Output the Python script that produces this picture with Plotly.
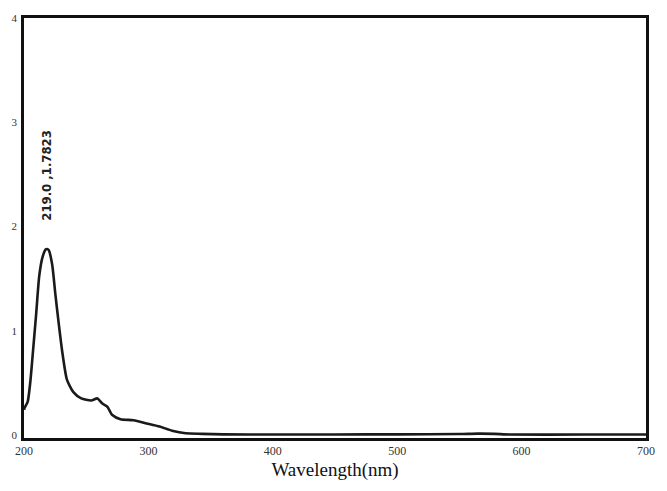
import plotly.graph_objects as go

wavelength = [200, 200.5, 203, 205, 207, 209.7, 212.3, 215, 217.5, 219, 220, 222.7, 225.3, 228, 230.6,
              234.5, 239.7, 246, 254, 259, 263, 267, 271, 277.6, 288, 298.6, 309, 319, 330, 343,
              360, 400, 450, 500, 550, 565, 578, 590, 650, 700]
absorbance = [0.24, 0.26, 0.32, 0.5, 0.77, 1.15, 1.53, 1.71, 1.78, 1.7823, 1.77, 1.63, 1.34, 1.06, 0.81,
              0.53, 0.41, 0.35, 0.33, 0.35, 0.30, 0.27, 0.19, 0.15, 0.14, 0.11, 0.08, 0.04, 0.015, 0.01,
              0.005, 0.004, 0.004, 0.005, 0.008, 0.012, 0.01, 0.004, 0.003, 0.003]
x_ticks = [200, 300, 400, 500, 600, 700]
y_ticks = [0, 1, 2, 3, 4]
peak_label = "219.0 ,1.7823"

fig = go.Figure()
fig.add_trace(go.Scatter(x=wavelength, y=absorbance, mode="lines",
                         line=dict(color="#1a1a1a", width=2.6, shape="spline", smoothing=0.6),
                         showlegend=False, hoverinfo="skip"))

fig.add_annotation(x=218, y=2.49, text="<b>" + peak_label + "</b>", textangle=-90, showarrow=False,
                   xref="x", yref="y",
                   font=dict(family="Liberation Sans Narrow, DejaVu Sans Condensed, Arial Narrow", size=13, color="#222"))

fig.update_layout(
    width=667, height=491,
    margin=dict(l=19, r=13, t=15, b=53),
    paper_bgcolor="white", plot_bgcolor="white",
    font=dict(family="Liberation Serif, Times New Roman, serif", color="#222"),
    xaxis=dict(range=[200, 700], tickvals=x_ticks, ticktext=[str(v) for v in x_ticks],
               showgrid=False, zeroline=False, showline=True, linecolor="#111", linewidth=2.5,
               mirror=True, ticks="", tickfont=dict(size=12, color="#333"),
               title=dict(text="Wavelength(nm)", font=dict(size=19, color="#111"), standoff=6)),
    yaxis=dict(range=[-0.03, 4], tickvals=y_ticks, ticktext=[str(v) for v in y_ticks],
               showgrid=False, zeroline=False, showline=True, linecolor="#111", linewidth=2.5,
               mirror=True, ticks="", tickfont=dict(size=11, color="#333"), ticklabelstandoff=2),
)

fig.write_html("out.html")
